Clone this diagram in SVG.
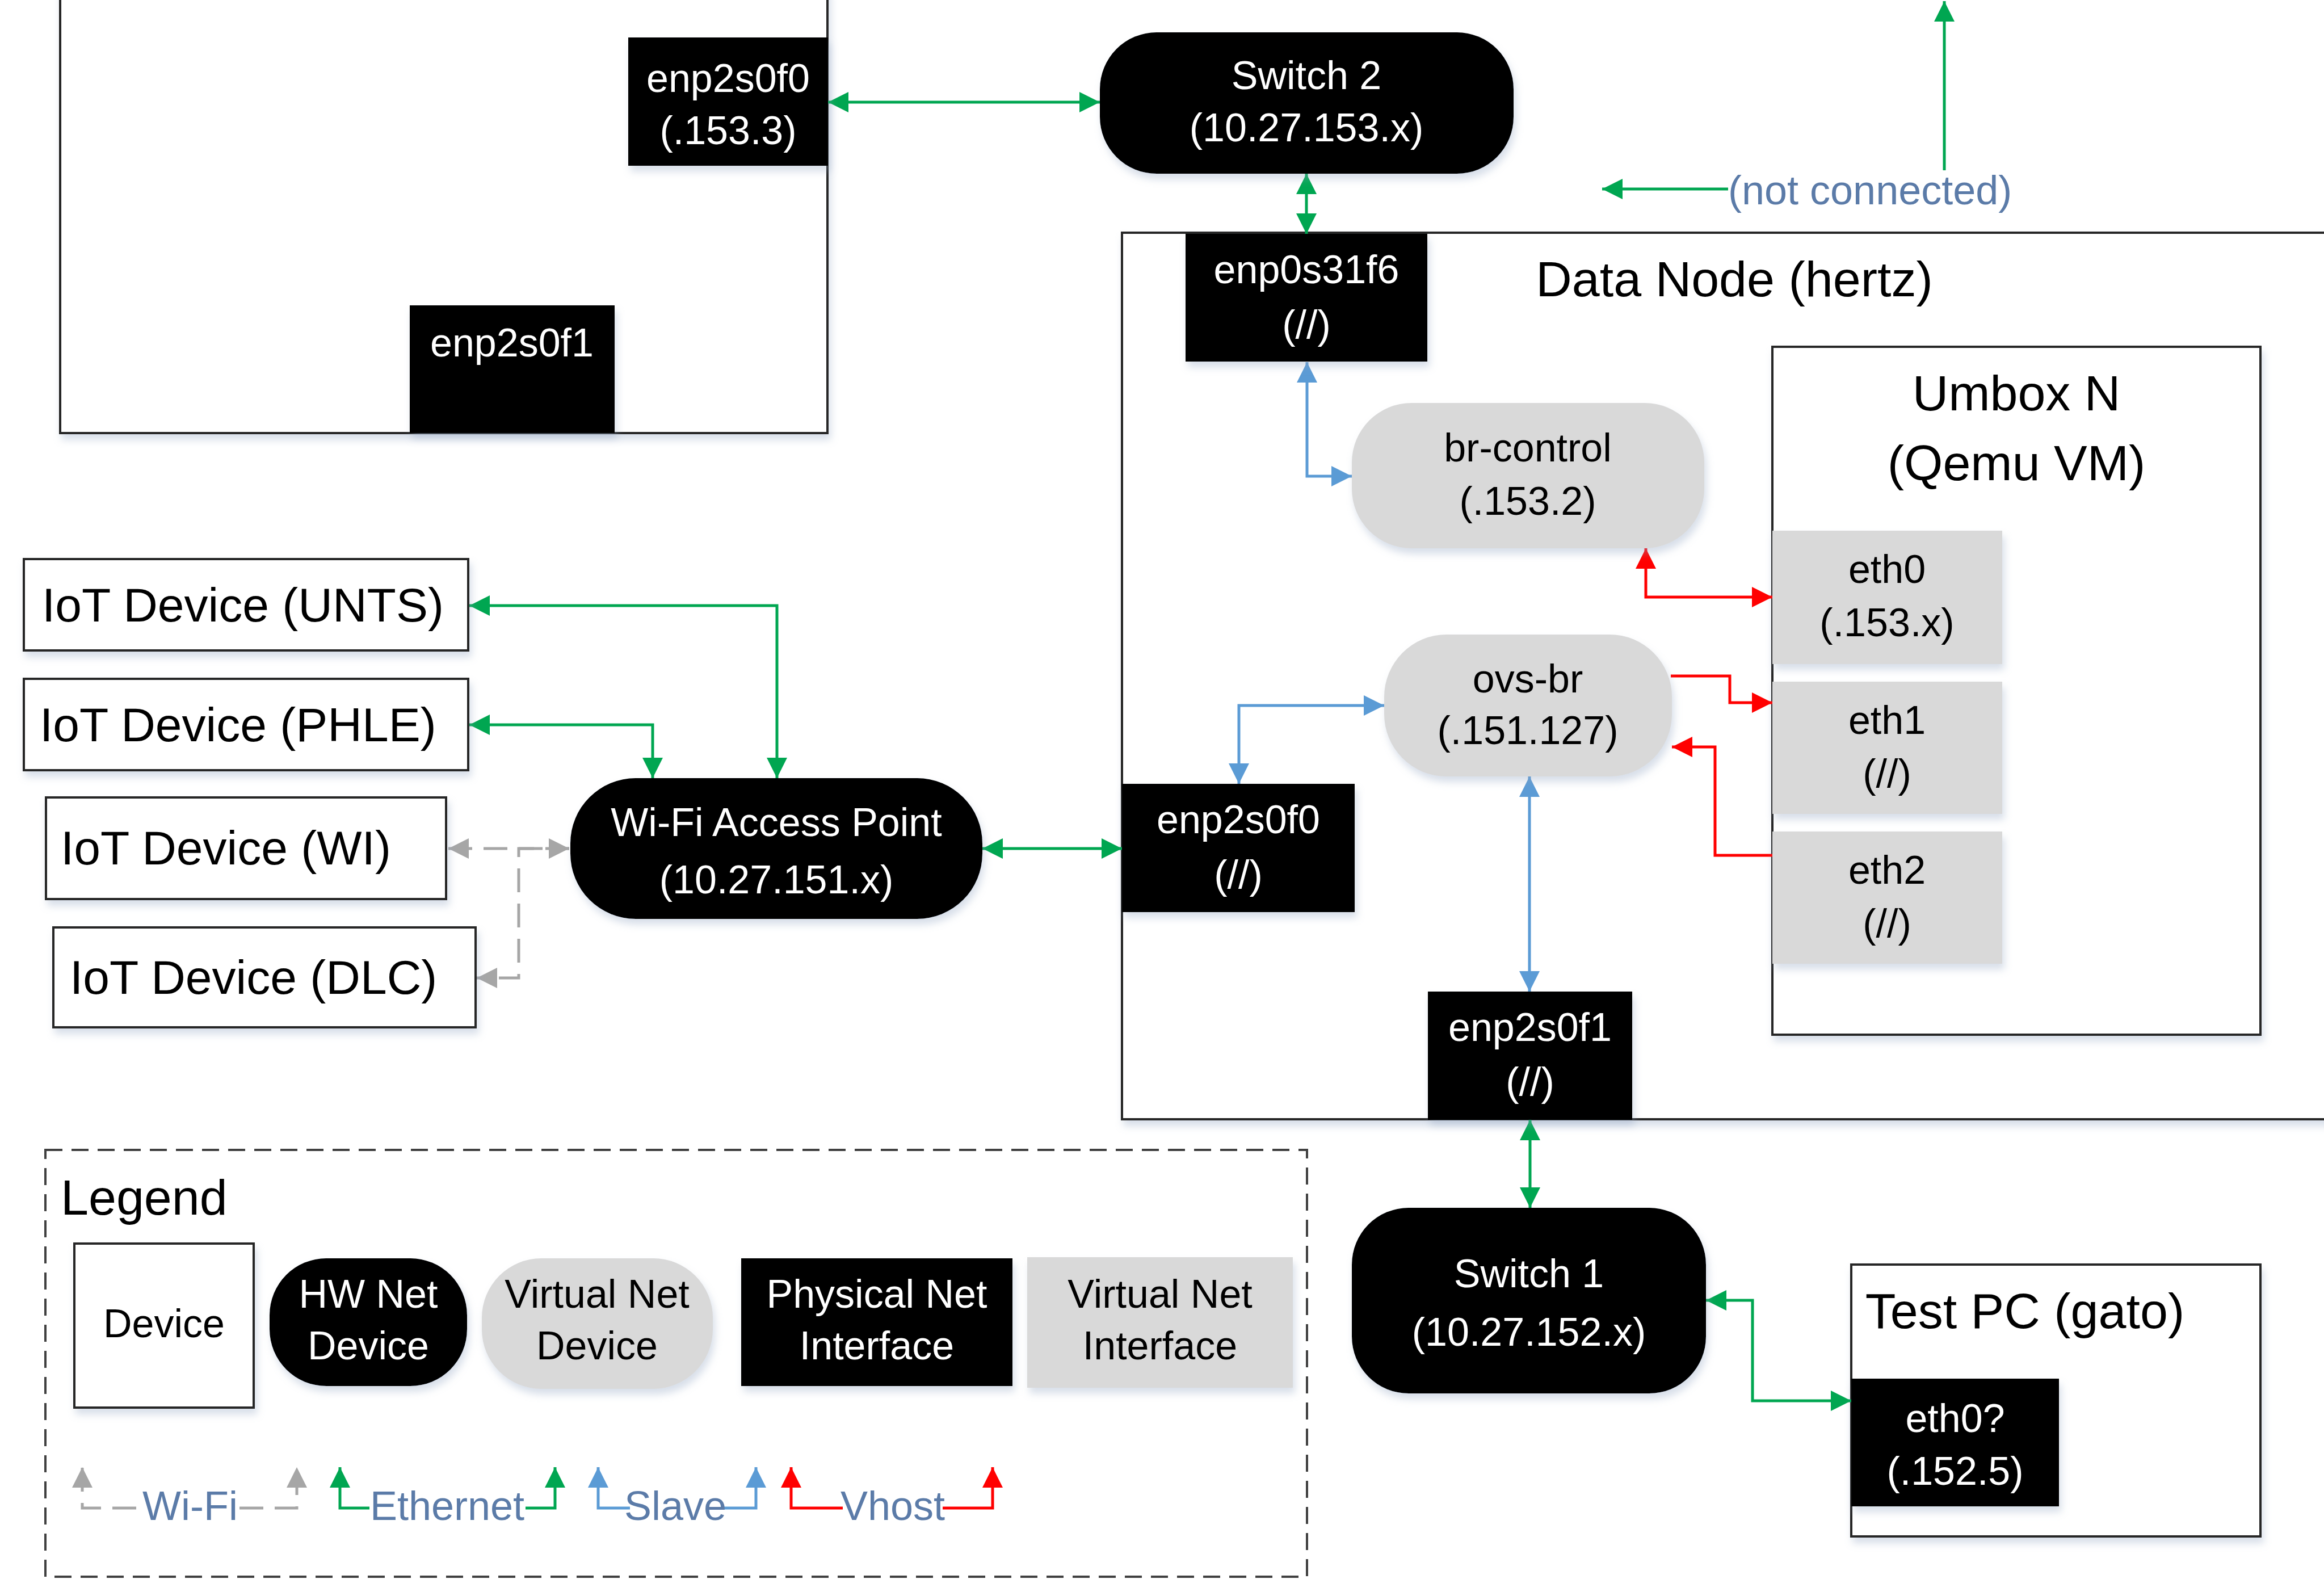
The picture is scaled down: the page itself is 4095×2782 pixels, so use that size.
<svg xmlns="http://www.w3.org/2000/svg" width="4095" height="2782" viewBox="0 0 4095 2782">
  <style>
    text { font-family: "Liberation Sans", Arial, sans-serif; }
    .t   { font-size: 70px; text-anchor: middle; dominant-baseline: central; }
    .big { font-size: 88px; dominant-baseline: central; }
    .iot { font-size: 84px; dominant-baseline: central; }
    .lbl { font-size: 72px; fill: #5B7BA8; dominant-baseline: central; }
    .w   { fill: #ffffff; }
    .k   { fill: #000000; }
    .box { fill: #ffffff; stroke: #262626; stroke-width: 4; }
    .hw  { fill: #000000; }
    .vd  { fill: #D9D9D9; }
    .c   { fill: none; stroke-width: 5; }
    .eth { stroke: #00A651; }
    .slv { stroke: #5B9BD5; }
    .vh  { stroke: #FF0000; }
    .wf  { stroke: #A6A6A6; stroke-dasharray: 42 20; }
    .sh  { filter: url(#shadow); }
  </style>
  <defs>
    <filter id="shadow" x="-10%" y="-10%" width="130%" height="140%">
      <feDropShadow dx="4" dy="10" stdDeviation="7" flood-color="#8FA3C0" flood-opacity="0.35"/>
    </filter>
    <marker id="aG" viewBox="0 0 36 36" refX="36" refY="18" markerWidth="36" markerHeight="36" markerUnits="userSpaceOnUse" orient="auto-start-reverse">
      <path d="M0,0 L36,18 L0,36 z" fill="#00A651"/>
    </marker>
    <marker id="aB" viewBox="0 0 36 36" refX="36" refY="18" markerWidth="36" markerHeight="36" markerUnits="userSpaceOnUse" orient="auto-start-reverse">
      <path d="M0,0 L36,18 L0,36 z" fill="#5B9BD5"/>
    </marker>
    <marker id="aR" viewBox="0 0 36 36" refX="36" refY="18" markerWidth="36" markerHeight="36" markerUnits="userSpaceOnUse" orient="auto-start-reverse">
      <path d="M0,0 L36,18 L0,36 z" fill="#FF0000"/>
    </marker>
    <marker id="aW" viewBox="0 0 36 36" refX="36" refY="18" markerWidth="36" markerHeight="36" markerUnits="userSpaceOnUse" orient="auto-start-reverse">
      <path d="M0,0 L36,18 L0,36 z" fill="#A6A6A6"/>
    </marker>
  </defs>

  <rect width="4095" height="2782" fill="#ffffff"/>

  <!-- containers -->
  <g id="control-node">
    <rect class="box sh" x="106" y="-20" width="1352" height="783"/>
  </g>
  <g id="data-node">
    <rect class="box sh" x="1977" y="410" width="2200" height="1562"/>
    <text class="big k" x="3056" y="491" text-anchor="middle">Data Node (hertz)</text>
  </g>
  <g id="umbox">
    <rect class="box sh" x="3123" y="611" width="860" height="1212"/>
    <text class="big k" x="3553" y="692" text-anchor="middle">Umbox N</text>
    <text class="big k" x="3553" y="815" text-anchor="middle">(Qemu VM)</text>
  </g>
  <g id="test-pc">
    <rect class="box sh" x="3262" y="2228" width="721" height="479"/>
    <text class="big k" x="3568" y="2309" text-anchor="middle">Test PC (gato)</text>
  </g>

  <!-- connectors -->
  <g id="connectors">
    <!-- ethernet -->
    <path class="c eth" d="M1459,180 H1938" marker-start="url(#aG)" marker-end="url(#aG)"/>
    <path class="c eth" d="M2302,306 V412" marker-start="url(#aG)" marker-end="url(#aG)"/>
    <path class="c eth" d="M3426,300 V2" marker-end="url(#aG)"/>
    <path class="c eth" d="M3045,333 H2823" marker-end="url(#aG)"/>
    <path class="c eth" d="M1369,1371 V1067 H827" marker-start="url(#aG)" marker-end="url(#aG)"/>
    <path class="c eth" d="M1150,1371 V1277 H827" marker-start="url(#aG)" marker-end="url(#aG)"/>
    <path class="c eth" d="M1731,1495 H1977" marker-start="url(#aG)" marker-end="url(#aG)"/>
    <path class="c eth" d="M2696,1973 V2128" marker-start="url(#aG)" marker-end="url(#aG)"/>
    <path class="c eth" d="M3006,2291 H3088 V2468 H3262" marker-start="url(#aG)" marker-end="url(#aG)"/>
    <!-- wi-fi -->
    <path class="c wf" d="M790,1495 H1003" marker-start="url(#aW)" marker-end="url(#aW)"/>
    <path class="c wf" d="M1003,1495 H914 V1723 H840" marker-end="url(#aW)"/>
    <!-- slave -->
    <path class="c slv" d="M2303,638 V839 H2382" marker-start="url(#aB)" marker-end="url(#aB)"/>
    <path class="c slv" d="M2183,1381 V1243 H2439" marker-start="url(#aB)" marker-end="url(#aB)"/>
    <path class="c slv" d="M2695,1368 V1747" marker-start="url(#aB)" marker-end="url(#aB)"/>
    <!-- vhost -->
    <path class="c vh" d="M2900,966 V1052 H3123" marker-start="url(#aR)" marker-end="url(#aR)"/>
    <path class="c vh" d="M2944,1191 H3048 V1238 H3123" marker-end="url(#aR)"/>
    <path class="c vh" d="M3123,1507 H3022 V1316 H2946" marker-end="url(#aR)"/>
  </g>
  <text class="lbl" x="3045" y="335">(not connected)</text>

  <!-- interfaces and devices -->
  <g id="ctl-enp2s0f0" class="sh">
    <rect class="hw" x="1107" y="66" width="352" height="226"/>
    <text class="t w" x="1283" y="138">enp2s0f0</text>
    <text class="t w" x="1283" y="230">(.153.3)</text>
  </g>
  <g id="ctl-enp2s0f1" class="sh">
    <rect class="hw" x="722" y="538" width="361" height="225"/>
    <text class="t w" x="902" y="604">enp2s0f1</text>
  </g>
  <g id="switch-2" class="sh">
    <rect class="hw" x="1938" y="57" width="729" height="249" rx="100"/>
    <text class="t w" x="2302" y="133">Switch 2</text>
    <text class="t w" x="2302" y="225">(10.27.153.x)</text>
  </g>
  <g id="dn-enp0s31f6" class="sh">
    <rect class="hw" x="2089" y="412" width="426" height="225"/>
    <text class="t w" x="2302" y="475">enp0s31f6</text>
    <text class="t w" x="2302" y="572">(//)</text>
  </g>
  <g id="br-control" class="sh">
    <rect class="vd" x="2382" y="710" width="621" height="256" rx="105"/>
    <text class="t k" x="2692" y="789">br-control</text>
    <text class="t k" x="2692" y="883">(.153.2)</text>
  </g>
  <g id="eth0" class="sh">
    <rect class="vd" x="3123" y="935" width="405" height="235"/>
    <text class="t k" x="3325" y="1003">eth0</text>
    <text class="t k" x="3325" y="1097">(.153.x)</text>
  </g>
  <g id="eth1" class="sh">
    <rect class="vd" x="3123" y="1201" width="405" height="233"/>
    <text class="t k" x="3325" y="1269">eth1</text>
    <text class="t k" x="3325" y="1363">(//)</text>
  </g>
  <g id="eth2" class="sh">
    <rect class="vd" x="3123" y="1465" width="405" height="233"/>
    <text class="t k" x="3325" y="1533">eth2</text>
    <text class="t k" x="3325" y="1627">(//)</text>
  </g>
  <g id="ovs-br" class="sh">
    <rect class="vd" x="2439" y="1118" width="507" height="250" rx="110"/>
    <text class="t k" x="2692" y="1196">ovs-br</text>
    <text class="t k" x="2692" y="1287">(.151.127)</text>
  </g>
  <g id="dn-enp2s0f0" class="sh">
    <rect class="hw" x="1977" y="1381" width="410" height="226"/>
    <text class="t w" x="2182" y="1444">enp2s0f0</text>
    <text class="t w" x="2182" y="1541">(//)</text>
  </g>
  <g id="dn-enp2s0f1" class="sh">
    <rect class="hw" x="2516" y="1747" width="360" height="226"/>
    <text class="t w" x="2696" y="1810">enp2s0f1</text>
    <text class="t w" x="2696" y="1906">(//)</text>
  </g>
  <g id="switch-1" class="sh">
    <rect class="hw" x="2382" y="2128" width="624" height="327" rx="100"/>
    <text class="t w" x="2694" y="2244">Switch 1</text>
    <text class="t w" x="2694" y="2347">(10.27.152.x)</text>
  </g>
  <g id="pc-eth0" class="sh">
    <rect class="hw" x="3262" y="2429" width="366" height="225"/>
    <text class="t w" x="3445" y="2499">eth0?</text>
    <text class="t w" x="3445" y="2592">(.152.5)</text>
  </g>
  <g id="wifi-ap" class="sh">
    <rect class="hw" x="1005" y="1371" width="726" height="248" rx="115"/>
    <text class="t w" x="1368" y="1449">Wi-Fi Access Point</text>
    <text class="t w" x="1368" y="1550">(10.27.151.x)</text>
  </g>
  <g id="iot-unts" class="sh">
    <rect class="box" x="42" y="985" width="783" height="161"/>
    <text class="iot k" x="74" y="1066">IoT Device (UNTS)</text>
  </g>
  <g id="iot-phle" class="sh">
    <rect class="box" x="42" y="1196" width="783" height="161"/>
    <text class="iot k" x="70" y="1277">IoT Device (PHLE)</text>
  </g>
  <g id="iot-wi" class="sh">
    <rect class="box" x="81" y="1405" width="705" height="179"/>
    <text class="iot k" x="107" y="1494">IoT Device (WI)</text>
  </g>
  <g id="iot-dlc" class="sh">
    <rect class="box" x="94" y="1634" width="744" height="176"/>
    <text class="iot k" x="123" y="1722">IoT Device (DLC)</text>
  </g>

  <!-- legend -->
  <g id="legend">
    <rect x="80" y="2026" width="2223" height="752" fill="none" stroke="#404040" stroke-width="4" stroke-dasharray="30 16"/>
    <text class="k" x="107" y="2140" font-size="88">Legend</text>
    <g id="legend-device" class="sh">
      <rect class="box" x="131" y="2191" width="316" height="289"/>
      <text class="t k" x="289" y="2332">Device</text>
    </g>
    <g id="legend-hw" class="sh">
      <rect class="hw" x="475" y="2217" width="348" height="225" rx="100"/>
      <text class="t w" x="649" y="2280">HW Net</text>
      <text class="t w" x="649" y="2371">Device</text>
    </g>
    <g id="legend-vdev" class="sh">
      <rect class="vd" x="849" y="2217" width="407" height="230" rx="105"/>
      <text class="t k" x="1052" y="2280">Virtual Net</text>
      <text class="t k" x="1052" y="2371">Device</text>
    </g>
    <g id="legend-phys" class="sh">
      <rect class="hw" x="1306" y="2217" width="478" height="225"/>
      <text class="t w" x="1545" y="2280">Physical Net</text>
      <text class="t w" x="1545" y="2371">Interface</text>
    </g>
    <g id="legend-vif" class="sh">
      <rect class="vd" x="1810" y="2215" width="468" height="230"/>
      <text class="t k" x="2044" y="2280">Virtual Net</text>
      <text class="t k" x="2044" y="2371">Interface</text>
    </g>
    <g id="legend-lines">
      <path class="c wf" d="M240,2657 H145 V2585" marker-end="url(#aW)"/>
      <path class="c wf" d="M422,2657 H523 V2585" marker-end="url(#aW)"/>
      <text class="lbl" x="335" y="2653" text-anchor="middle">Wi-Fi</text>
      <path class="c eth" d="M651,2657 H599 V2585" marker-end="url(#aG)"/>
      <path class="c eth" d="M926,2657 H978 V2585" marker-end="url(#aG)"/>
      <text class="lbl" x="788" y="2653" text-anchor="middle">Ethernet</text>
      <path class="c slv" d="M1110,2657 H1054 V2585" marker-end="url(#aB)"/>
      <path class="c slv" d="M1270,2657 H1332 V2585" marker-end="url(#aB)"/>
      <text class="lbl" x="1190" y="2653" text-anchor="middle">Slave</text>
      <path class="c vh" d="M1485,2657 H1394 V2585" marker-end="url(#aR)"/>
      <path class="c vh" d="M1661,2657 H1749 V2585" marker-end="url(#aR)"/>
      <text class="lbl" x="1573" y="2653" text-anchor="middle">Vhost</text>
    </g>
  </g>
</svg>
